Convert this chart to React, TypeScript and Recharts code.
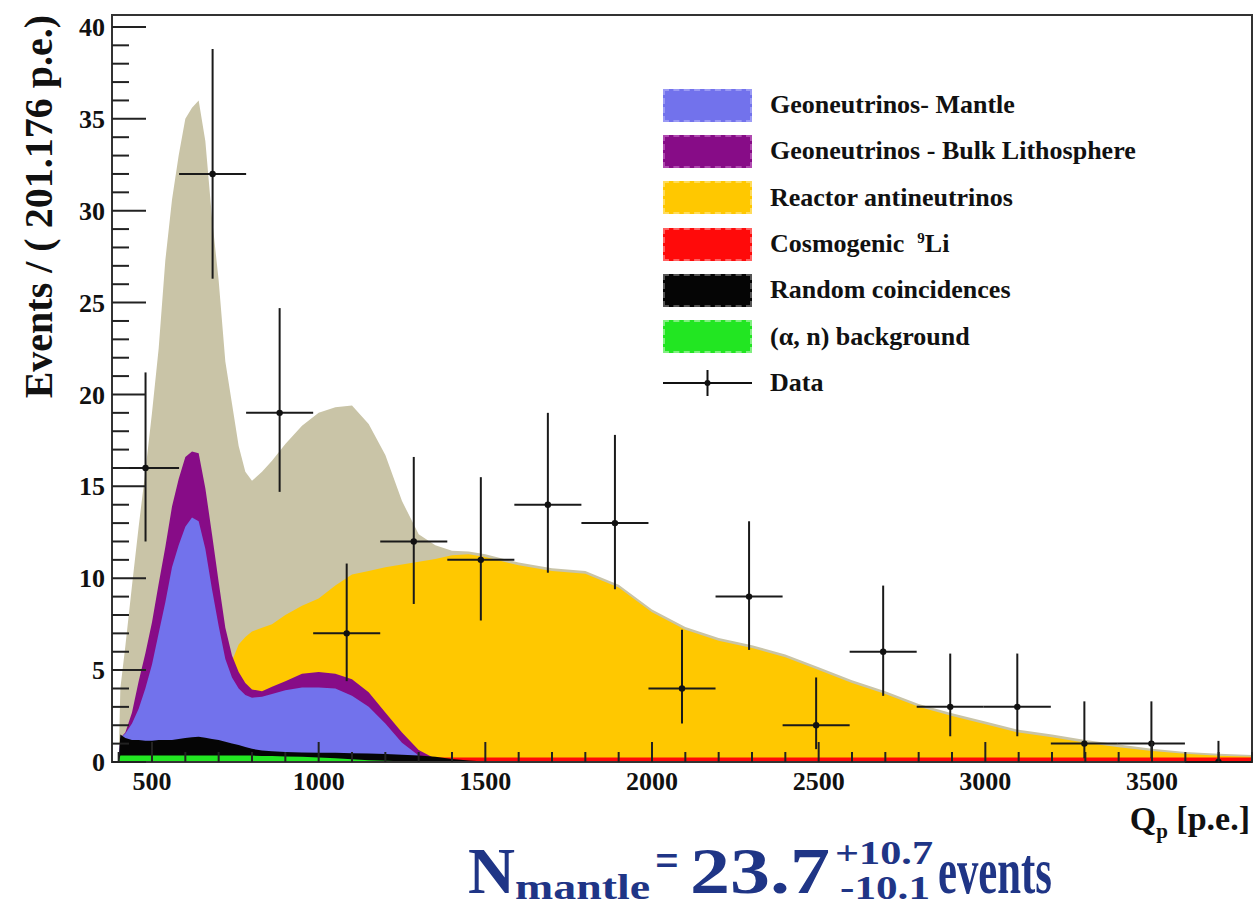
import React from 'react';
import { ComposedChart, Area, Scatter, ErrorBar, XAxis, YAxis, ReferenceArea, Legend } from 'recharts';

const SERIF = '"Liberation Serif", "Times New Roman", serif';

// Q_p sampling of the fitted component histograms [p.e.]
const qGrid = [
  380, 400, 405, 420, 440, 460, 480, 500, 520, 540, 560, 580, 600, 620, 640, 660, 680, 700, 720, 740,
  760, 780, 800, 830, 860, 900, 950, 1000, 1050, 1100, 1150, 1200, 1250, 1300, 1350, 1400, 1450, 1500,
  1600, 1700, 1800, 1900, 2000, 2100, 2200, 2300, 2400, 2500, 2600, 2700, 2800, 2900, 3000, 3100, 3200,
  3300, 3400, 3500, 3600, 3700, 3800,
];

// cumulative tops (each one is drawn from 0, back to front)
const totalTop = [
  0, 0, 4.0, 6.3, 9.6, 12.8, 15.8, 19.0, 22.5, 27.3, 30.6, 33.0, 35.0, 35.6, 36.0, 33.8, 29.6, 26.2, 21.8, 19.5,
  17.2, 15.8, 15.3, 15.8, 16.4, 17.3, 18.3, 19.0, 19.3, 19.4, 18.4, 16.7, 14.2, 12.4, 11.8, 11.5, 11.45, 11.3,
  10.85, 10.55, 10.4, 9.65, 8.3, 7.35, 6.75, 6.35, 5.85, 5.15, 4.45, 3.85, 3.15, 2.65, 2.2, 1.75, 1.5,
  1.2, 0.95, 0.72, 0.55, 0.45, 0.38,
];
const reactorTop = [
  0, 0, 0, 0, 0, 0, 0, 0, 0, 0, 0, 0, 0, 0, 0, 0, 0, 0, 0, 5.5,
  6.4, 6.8, 7.1, 7.3, 7.5, 8.0, 8.5, 8.9, 9.6, 10.2, 10.4, 10.6, 10.75, 10.9, 11.05, 11.25, 11.3, 11.15,
  10.7, 10.4, 10.25, 9.5, 8.15, 7.2, 6.6, 6.2, 5.7, 5.0, 4.3, 3.7, 3.0, 2.5, 2.05, 1.6, 1.35,
  1.05, 0.8, 0.6, 0.45, 0.34, 0.29,
];
const lithoTop = [
  0, 0, 1.3, 1.6, 2.7, 4.4, 5.9, 7.6, 9.7, 11.7, 13.9, 15.4, 16.6, 16.9, 16.8, 14.9, 12.4, 9.8, 7.3, 5.8,
  4.9, 4.3, 3.95, 3.85, 4.1, 4.4, 4.8, 4.9, 4.8, 4.5, 3.8, 2.7, 1.6, 0.65, 0.18, 0.05, 0, 0,
  0, 0, 0, 0, 0, 0, 0, 0, 0, 0, 0, 0, 0, 0, 0, 0, 0,
  0, 0, 0, 0, 0, 0,
];
const mantleTop = [
  0, 0, 1.3, 1.55, 2.1, 2.9, 4.0, 5.3, 7.0, 8.7, 10.6, 11.8, 12.8, 13.3, 13.1, 11.6, 9.4, 7.4, 5.6, 4.6,
  4.0, 3.65, 3.5, 3.55, 3.7, 3.9, 4.05, 4.05, 4.0, 3.6, 3.0, 2.1, 1.05, 0.35, 0.08, 0, 0, 0,
  0, 0, 0, 0, 0, 0, 0, 0, 0, 0, 0, 0, 0, 0, 0, 0, 0,
  0, 0, 0, 0, 0, 0,
];
const lithiumTop = [
  0, 0, 0.25, 0.25, 0.25, 0.25, 0.25, 0.25, 0.25, 0.25, 0.25, 0.25, 0.25, 0.25, 0.25, 0.25, 0.25, 0.25, 0.25, 0.25,
  0.25, 0.25, 0.25, 0.25, 0.25, 0.25, 0.25, 0.25, 0.25, 0.25, 0.25, 0.25, 0.25, 0.25, 0.25, 0.25, 0.25, 0.25,
  0.25, 0.25, 0.25, 0.25, 0.25, 0.25, 0.25, 0.25, 0.25, 0.25, 0.25, 0.25, 0.25, 0.25, 0.25, 0.25, 0.25,
  0.25, 0.25, 0.25, 0.25, 0.25, 0.25,
];
const randomTop = [
  0, 0, 1.5, 1.3, 1.2, 1.2, 1.15, 1.15, 1.2, 1.2, 1.2, 1.25, 1.3, 1.35, 1.38, 1.32, 1.25, 1.2, 1.1, 1.0,
  0.92, 0.82, 0.72, 0.62, 0.58, 0.55, 0.52, 0.5, 0.5, 0.48, 0.46, 0.44, 0.4, 0.35, 0.28, 0.17, 0.08, 0.03,
  0, 0, 0, 0, 0, 0, 0, 0, 0, 0, 0, 0, 0, 0, 0, 0, 0,
  0, 0, 0, 0, 0, 0,
];
const alphaNTop = [
  0, 0, 0.35, 0.35, 0.35, 0.35, 0.35, 0.35, 0.35, 0.35, 0.35, 0.35, 0.35, 0.35, 0.35, 0.35, 0.35, 0.35, 0.35, 0.35,
  0.35, 0.35, 0.35, 0.33, 0.32, 0.3, 0.28, 0.25, 0.2, 0.15, 0.1, 0.07, 0.04, 0.02, 0, 0, 0, 0,
  0, 0, 0, 0, 0, 0, 0, 0, 0, 0, 0, 0, 0, 0, 0, 0, 0,
  0, 0, 0, 0, 0, 0,
];

// data: 17 bins of 201.176 p.e., 68% Poisson intervals
const binCenter = [480.6, 681.8, 882.9, 1084.1, 1285.3, 1486.5, 1687.6, 1888.8, 2090.0, 2291.2, 2492.4, 2693.5, 2894.7, 3095.9, 3297.1, 3498.2, 3699.4];
const counts = [16, 32, 19, 7, 12, 11, 14, 13, 4, 9, 2, 6, 3, 3, 1, 1, 0];
const ciLow = [12.0, 26.3, 14.7, 4.4, 8.6, 7.7, 10.3, 9.4, 2.1, 6.1, 0.7, 3.6, 1.4, 1.4, 0.2, 0.2, 0];
const ciHigh = [21.2, 38.8, 24.7, 10.8, 16.6, 15.5, 19.0, 17.8, 7.2, 13.1, 4.6, 9.6, 5.9, 5.9, 3.3, 3.3, 1.15];
const binHalfWidth = 100.588;

const xTicks = [400, 500, 600, 700, 800, 900, 1000, 1100, 1200, 1300, 1400, 1500, 1600, 1700, 1800, 1900, 2000, 2100, 2200, 2300, 2400, 2500, 2600, 2700, 2800, 2900, 3000, 3100, 3200, 3300, 3400, 3500, 3600, 3700, 3800];
const yTicks = [0, 1, 2, 3, 4, 5, 6, 7, 8, 9, 10, 11, 12, 13, 14, 15, 16, 17, 18, 19, 20, 21, 22, 23, 24, 25, 26, 27, 28, 29, 30, 31, 32, 33, 34, 35, 36, 37, 38, 39, 40];

const COLORS = {
  total: '#c9c4a7',
  reactor: '#ffc800',
  litho: '#870c87',
  mantle: '#7272ec',
  lithium: '#ff0a0a',
  random: '#050505',
  alphaN: '#22e622',
};

const legendRows = [
  { label: 'Geoneutrinos- Mantle', color: COLORS.mantle, edge: '#9a9af5' },
  { label: 'Geoneutrinos - Bulk Lithosphere', color: COLORS.litho, edge: '#b04ab0' },
  { label: 'Reactor antineutrinos', color: COLORS.reactor, edge: '#ffdc5a' },
  { label: 'Cosmogenic', color: COLORS.lithium, edge: '#ff6060', sup: '9', after: 'Li' },
  { label: 'Random coincidences', color: COLORS.random, edge: '#555' },
  { label: '(\u03b1, n) background', color: COLORS.alphaN, edge: '#80f080' },
];

const histData = qGrid.map((q, i) => ({
  q,
  total: totalTop[i],
  reactor: reactorTop[i],
  litho: lithoTop[i],
  mantle: mantleTop[i],
  lithium: lithiumTop[i],
  random: randomTop[i],
  alphaN: alphaNTop[i],
}));

const pointData = binCenter.map((q, i) => ({
  q,
  n: counts[i],
  ey: [counts[i] - ciLow[i], ciHigh[i] - counts[i]],
  ex: binHalfWidth,
}));

const XTick = (props: any) => {
  const { x, y, payload } = props;
  const major = payload.value % 500 === 0;
  return (
    <g>
      <line x1={x} x2={x} y1={y} y2={y - (major ? 20 : 10)} stroke="#222" strokeWidth={2} />
      {major && (
        <text x={x} y={y + 28} textAnchor="middle" fontFamily={SERIF} fontWeight={700} fontSize={26} fill="#111">
          {payload.value}
        </text>
      )}
    </g>
  );
};

const YTick = (props: any) => {
  const { x, y, payload } = props;
  const major = payload.value % 5 === 0;
  return (
    <g>
      <line x1={x} x2={x + (major ? 34 : 17)} y1={y} y2={y} stroke="#222" strokeWidth={2} />
      {major && (
        <text x={x - 7} y={y} dy="0.35em" textAnchor="end" fontFamily={SERIF} fontWeight={700} fontSize={26} fill="#111">
          {payload.value}
        </text>
      )}
    </g>
  );
};

const YTitle = () => (
  <text transform="rotate(-90)" x={-15} y={52} textAnchor="end" fontFamily={SERIF} fontWeight={700} fontSize={40} fill="#111">
    Events / ( 201.176 p.e.)
  </text>
);

const XTitle = () => {
  const blue = '#1f3586';
  return (
    <g fontFamily={SERIF} fontWeight={700}>
      <text x={1250} y={830} textAnchor="end" fontSize={34} fill="#111">
        Q<tspan fontSize={21} dy={8}>p</tspan>
        <tspan dy={-8}> [p.e.]</tspan>
      </text>
      <g fill={blue}>
        <text x={468} y={893} fontSize={66} textLength={47} lengthAdjust="spacingAndGlyphs">N</text>
        <text x={515} y={899} fontSize={36} textLength={135} lengthAdjust="spacingAndGlyphs">mantle</text>
        <text x={655} y={876} fontSize={48} textLength={24} lengthAdjust="spacingAndGlyphs">=</text>
        <text x={690} y={893} fontSize={66} textLength={140} lengthAdjust="spacingAndGlyphs">23.7</text>
        <text x={835} y={864} fontSize={34} textLength={98} lengthAdjust="spacingAndGlyphs">+10.7</text>
        <text x={840} y={899} fontSize={34} textLength={90} lengthAdjust="spacingAndGlyphs">-10.1</text>
        <text x={938} y={893} fontSize={66} textLength={114} lengthAdjust="spacingAndGlyphs">events</text>
      </g>
    </g>
  );
};

const LegendContent = () => (
  <div style={{ fontFamily: SERIF, fontWeight: 700, fontSize: 26, color: '#111', lineHeight: 1 }}>
    {legendRows.map((r, i) => (
      <div key={i} style={{ display: 'flex', alignItems: 'center', height: 46.3 }}>
        <div style={{ width: 89, height: 33, background: r.color, border: `2px dashed ${r.edge}`, boxSizing: 'border-box' }} />
        <span style={{ marginLeft: 18, whiteSpace: 'nowrap' }}>
          {r.label}
          {r.sup && (
            <>
              {'\u00a0\u00a0'}
              <sup style={{ fontSize: 15, verticalAlign: 9 }}>{r.sup}</sup>
              {r.after}
            </>
          )}
        </span>
      </div>
    ))}
    <div style={{ display: 'flex', alignItems: 'center', height: 46.3 }}>
      <svg width={89} height={34}>
        <line x1={0} x2={89} y1={17} y2={17} stroke="#111" strokeWidth={2} />
        <line x1={44.5} x2={44.5} y1={4} y2={30} stroke="#111" strokeWidth={2} />
        <circle cx={44.5} cy={17} r={3} fill="#111" />
      </svg>
      <span style={{ marginLeft: 18 }}>Data</span>
    </div>
  </div>
);

export default function App() {
  return (
    <div style={{ position: 'absolute', left: 0, top: 0, width: 1255, height: 909, background: '#fff' }}>
      <ComposedChart width={1255} height={909} data={histData} margin={{ top: 15, right: 3, bottom: 87, left: 12 }}>
        <Area type="linear" dataKey="total" fill={COLORS.total} fillOpacity={1} stroke="none" dot={false} activeDot={false} isAnimationActive={false} />
        <Area type="linear" dataKey="reactor" fill={COLORS.reactor} fillOpacity={1} stroke="none" dot={false} activeDot={false} isAnimationActive={false} />
        <Area type="linear" dataKey="litho" fill={COLORS.litho} fillOpacity={1} stroke="none" dot={false} activeDot={false} isAnimationActive={false} />
        <Area type="linear" dataKey="mantle" fill={COLORS.mantle} fillOpacity={1} stroke="none" dot={false} activeDot={false} isAnimationActive={false} />
        <Area type="linear" dataKey="lithium" fill={COLORS.lithium} fillOpacity={1} stroke="none" dot={false} activeDot={false} isAnimationActive={false} />
        <Area type="linear" dataKey="random" fill={COLORS.random} fillOpacity={1} stroke="none" dot={false} activeDot={false} isAnimationActive={false} />
        <Area type="linear" dataKey="alphaN" fill={COLORS.alphaN} fillOpacity={1} stroke="none" dot={false} activeDot={false} isAnimationActive={false} />
        <XAxis
          type="number"
          dataKey="q"
          domain={[380, 3800]}
          allowDataOverflow
          ticks={xTicks}
          interval={0}
          tick={<XTick />}
          tickSize={0}
          tickMargin={0}
          tickLine={false}
          axisLine={false}
          height={60}
          label={<XTitle />}
        />
        <YAxis
          type="number"
          domain={[0, 40.65]}
          allowDataOverflow
          ticks={yTicks}
          interval={0}
          tick={<YTick />}
          tickSize={0}
          tickMargin={0}
          tickLine={false}
          axisLine={false}
          width={100}
          label={<YTitle />}
        />
        <ReferenceArea x1={380} x2={3800} y1={0} y2={40.65} fill="none" stroke="#333" strokeWidth={2} ifOverflow="visible" />
        <Scatter
          data={pointData}
          dataKey="n"
          isAnimationActive={false}
          shape={(p: any) => <circle cx={p.cx} cy={p.cy} r={3.2} fill="#111" />}
        >
          <ErrorBar dataKey="ey" direction="y" width={0} stroke="#1a1a1a" strokeWidth={2} isAnimationActive={false} />
          <ErrorBar dataKey="ex" direction="x" width={0} stroke="#1a1a1a" strokeWidth={2} isAnimationActive={false} />
        </Scatter>
        <Legend
          layout="vertical"
          align="center"
          verticalAlign="middle"
          wrapperStyle={{ left: 663, top: 82, width: 560, height: 330 }}
          content={<LegendContent />}
        />
      </ComposedChart>
    </div>
  );
}
